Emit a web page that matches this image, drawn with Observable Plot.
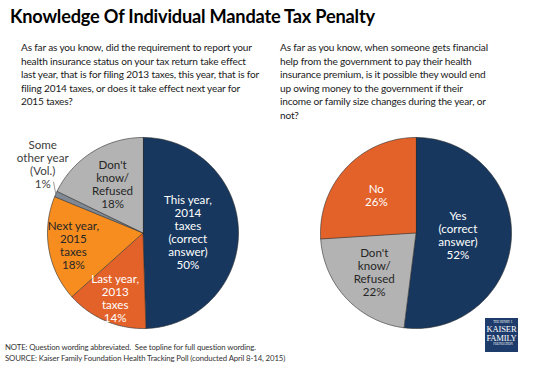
<!DOCTYPE html>
<html>
<head>
<meta charset="utf-8">
<script src="https://cdn.jsdelivr.net/npm/d3@7"></script>
<script src="https://cdn.jsdelivr.net/npm/@observablehq/plot@0.6"></script>
<style>
  html, body { margin: 0; padding: 0; background: #fff; }
  #page { position: relative; width: 553px; height: 369px; overflow: hidden; font-family: Lato, "Open Sans", sans-serif; color: #262626; }
  #title { position: absolute; left: 10px; top: 5px; font-weight: bold; font-size: 18.2px; color: #000; white-space: nowrap; letter-spacing: -0.2px; }
  .q { position: absolute; top: 41px; font-size: 10.1px; line-height: 13.5px; white-space: nowrap; color: #1a1a1a; letter-spacing: -0.17px; }
  #q1 { left: 21px; }
  #q2 { left: 280px; }
  #chart { position: absolute; left: 0; top: 128px; }
  #note { position: absolute; left: 5px; top: 342px; font-size: 7.8px; line-height: 10.5px; color: #333; white-space: nowrap; letter-spacing: -0.12px; }
  #logo { position: absolute; left: 485px; top: 318px; width: 33px; height: 34px; background: #1d3b6b; color: #fff; font-family: "Liberation Serif", "DejaVu Serif", serif; text-align: center; overflow: hidden; }
  #logo .big { font-size: 8.6px; line-height: 8.5px; letter-spacing: -0.2px; }
  #logo .tiny { font-size: 6px; line-height: 5px; transform: scale(0.5); transform-origin: center; white-space: nowrap; }
</style>
</head>
<body>
<div id="page">
  <div id="title">Knowledge Of Individual Mandate Tax Penalty</div>
  <div class="q" id="q1">As far as you know, did the requirement to report your<br>health insurance status on your tax return take effect<br>last year, that is for filing 2013 taxes, this year, that is for<br>filing 2014 taxes, or does it take effect next year for<br>2015 taxes?</div>
  <div class="q" id="q2">As far as you know, when someone gets financial<br>help from the government to pay their health<br>insurance premium, is it possible they would end<br>up owing money to the government if their<br>income or family size changes during the year, or<br>not?</div>
  <div id="chart"></div>
  <div id="note">NOTE: Question wording abbreviated.&nbsp; See topline for full question wording.<br>SOURCE: Kaiser Family Foundation Health Tracking Poll (conducted April 8-14, 2015)</div>
  <div id="logo">
    <div class="tiny" style="margin-top:2px">THE HENRY J.</div>
    <div class="big">KAISER</div>
    <div class="big">FAMILY</div>
    <div class="tiny">FOUNDATION</div>
  </div>
</div>
<script>
// ---- Data ----
const q1Categories = ["This year,\n2014\ntaxes\n(correct\nanswer)", "Last year,\n2013\ntaxes", "Next year,\n2015\ntaxes", "Some\nother year\n(Vol.)", "Don't\nknow/\nRefused"];
const q1Values = [50, 14, 18, 1, 18];
const q1Colors = ["#17375e", "#e3622a", "#f68d1e", "#7f8893", "#b3b3b3"];
const q1TextColors = ["#ffffff", "#ffffff", "#262626", "#404040", "#262626"];

const q2Categories = ["Yes\n(correct\nanswer)", "Don't\nknow/\nRefused", "No"];
const q2Values = [52, 22, 26];
const q2Colors = ["#17375e", "#b3b3b3", "#e3622a"];
const q2TextColors = ["#ffffff", "#262626", "#ffffff"];

// ---- Layout (label distance from center, in radii) ----
const q1LabelRadius = [0.47, 0.74, 0.74, 1.15, 0.6];
const q2LabelRadius = [0.44, 0.6, 0.57];

function buildPie(pie, cats, vals, cols, tcols, lr) {
  const total = d3.sum(vals);
  let cum = 0;
  const polys = [], labels = [];
  cats.forEach((c, i) => {
    const a0 = cum / total * 2 * Math.PI;
    cum += vals[i];
    const a1 = cum / total * 2 * Math.PI;
    const key = pie + "-" + i;
    polys.push({pie, key, color: cols[i], x: 0, y: 0});
    const n = Math.max(2, Math.ceil((a1 - a0) / 0.02));
    for (let k = 0; k <= n; k++) {
      const a = a0 + (a1 - a0) * k / n;
      polys.push({pie, key, color: cols[i], x: Math.sin(a), y: Math.cos(a)});
    }
    const am = (a0 + a1) / 2;
    labels.push({pie, text: c + "\n" + vals[i] + "%", fill: tcols[i], x: lr[i] * Math.sin(am), y: lr[i] * Math.cos(am), outside: lr[i] > 1, am});
  });
  return {polys, labels};
}

const p1 = buildPie("q1", q1Categories, q1Values, q1Colors, q1TextColors, q1LabelRadius);
const p2 = buildPie("q2", q2Categories, q2Values, q2Colors, q2TextColors, q2LabelRadius);
const polys = p1.polys.concat(p2.polys);
const labels = p1.labels.concat(p2.labels);
const inside = labels.filter(d => !d.outside);
const outside = labels.filter(d => d.outside);
const leaders = outside.map(d => ({pie: d.pie, x1: Math.sin(d.am), y1: Math.cos(d.am), x2: 1.08 * Math.sin(d.am + 0.1), y2: 1.08 * Math.cos(d.am + 0.1)}));

const chart = Plot.plot({
  width: 553,
  height: 205,
  marginLeft: 6, marginRight: 1, marginTop: 0, marginBottom: 0,
  fx: {domain: ["q1", "q2"], padding: 0, axis: null, label: null},
  x: {domain: [-1.4293, 1.4293], axis: null},
  y: {domain: [-1.052, 1.094], axis: null},
  color: {type: "identity"},
  style: {fontFamily: "Lato, 'Open Sans', sans-serif", background: "transparent"},
  marks: [
    Plot.line(polys, {fx: "pie", x: "x", y: "y", z: "key", fill: "color", stroke: "#2e2e2e", strokeWidth: 0.6, curve: "linear-closed"}),
    Plot.text(inside, {fx: "pie", x: "x", y: "y", text: "text", fill: "fill", fontSize: 11.6, lineHeight: 1.13}),
    Plot.text(outside, {fx: "pie", x: "x", y: "y", text: "text", fill: "fill", fontSize: 11.6, lineHeight: 1.13, lineAnchor: "bottom"}),
    Plot.link(leaders, {fx: "pie", x1: "x1", y1: "y1", x2: "x2", y2: "y2", stroke: "#7f7f7f", strokeWidth: 0.8})
  ]
});
document.getElementById("chart").appendChild(chart);
</script>
</body>
</html>
